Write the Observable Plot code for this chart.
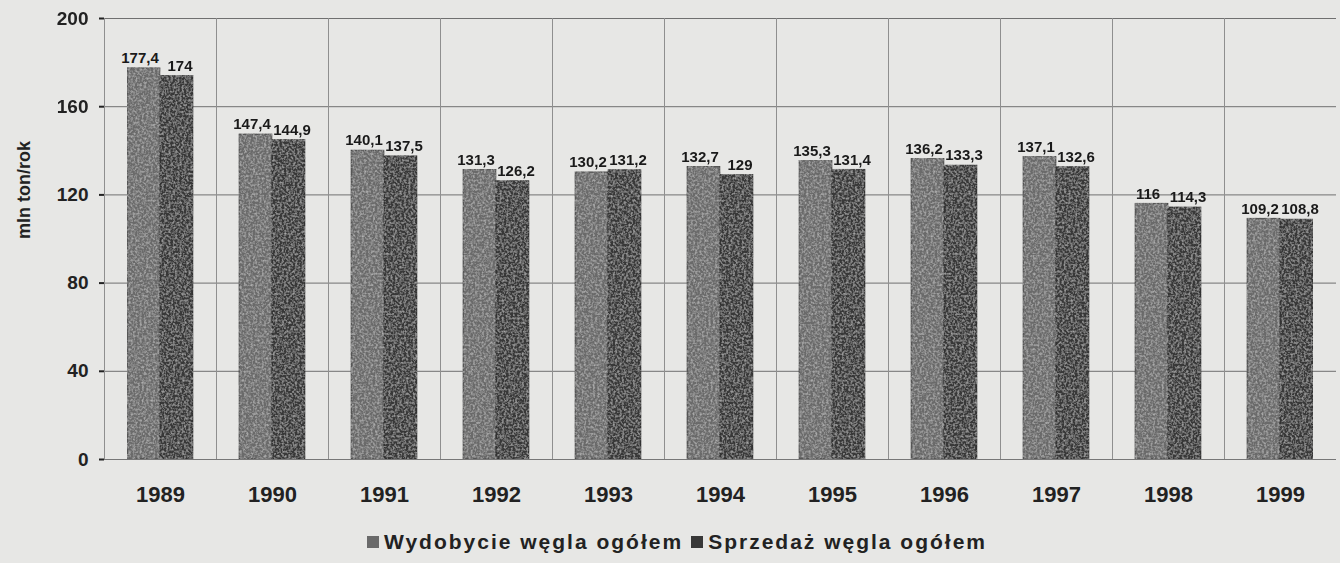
<!DOCTYPE html>
<html><head><meta charset="utf-8">
<script src="https://cdn.jsdelivr.net/npm/d3@7"></script>
<script src="https://cdn.jsdelivr.net/npm/@observablehq/plot@0.6"></script>
<style>
body{margin:0;background:#e7e7e5;font-family:"Liberation Sans",Arial,sans-serif;}
#chart svg{display:block;}
#legend{height:43px;display:flex;justify-content:center;align-items:center;font-weight:bold;font-size:21px;letter-spacing:2px;color:#222;padding-left:14px;box-sizing:border-box;}
#legend .sw{display:inline-block;width:12px;height:12px;margin-right:5px;}
#legend .item{margin:0 4px;display:flex;align-items:center;}
</style></head><body>
<svg width="0" height="0" style="position:absolute">
  <defs>
    <filter id="grain" x="0" y="0" width="100%" height="100%">
      <feTurbulence type="fractalNoise" baseFrequency="0.45" numOctaves="2" seed="3" result="n"/>
      <feColorMatrix in="n" type="matrix" values="0 0 0 0 1  0 0 0 0 1  0 0 0 0 1  0.7 0 0 0 -0.28" result="w"/>
      <feComposite in="w" in2="SourceGraphic" operator="in" result="wc"/>
      <feMerge><feMergeNode in="SourceGraphic"/><feMergeNode in="wc"/></feMerge>
    </filter>
  </defs>
</svg>
<div id="chart"></div>
<div id="legend"></div>
<script>
const years = [1989,1990,1991,1992,1993,1994,1995,1996,1997,1998,1999];
const seriesNames = ["Wydobycie węgla ogółem","Sprzedaż węgla ogółem"];
const seriesColors = ["#6a6a6a","#383838"];
const wydobycie = [177.4,147.4,140.1,131.3,130.2,132.7,135.3,136.2,137.1,116,109.2];
const sprzedaz = [174,144.9,137.5,126.2,131.2,129,131.4,133.3,132.6,114.3,108.8];
const yTicks = [0,40,80,120,160,200];

const data = years.flatMap((y,i)=>[
  {year:y, series:seriesNames[0], value:wydobycie[i]},
  {year:y, series:seriesNames[1], value:sprzedaz[i]}
]);
const fmt = v => String(v).replace(".", ",");
const first = data.filter(d => d.series === seriesNames[0]);
const second = data.filter(d => d.series === seriesNames[1]);

const chart = Plot.plot({
  width:1340, height:520,
  marginLeft:100, marginRight:0, marginTop:18, marginBottom:61,
  style:{background:"transparent", fontFamily:"'Liberation Sans', Arial, sans-serif", color:"#222"},
  fx:{domain:years, padding:0, label:null},
  x:{domain:seriesNames, paddingInner:0, paddingOuter:0.69, axis:null},
  y:{domain:[0,200], axis:null},
  color:{domain:seriesNames, range:seriesColors},
  marks:[
    Plot.gridY(yTicks, {stroke:"#707070", strokeOpacity:1, strokeWidth:1}),
    Plot.frame({anchor:"left", stroke:"#8f8f8f", strokeWidth:1}),
    Plot.barY(data, {fx:"year", x:"series", y:"value", fill:"series", stroke:"#2a2a2a", strokeWidth:0.6}),
    Plot.text(first, {fx:"year", x:"series", y:"value", text:d=>fmt(d.value), dy:-10, dx:-4, fontSize:15, fontWeight:"bold", fill:"#1a1a1a"}),
    Plot.text(second, {fx:"year", x:"series", y:"value", text:d=>fmt(d.value), dy:-10, dx:3, fontSize:15, fontWeight:"bold", fill:"#1a1a1a"}),
    Plot.ruleY([0], {stroke:"#777"}),
    Plot.axisY({ticks:yTicks, tickSize:5, tickPadding:11, fontSize:19, fontWeight:"bold", line:true, stroke:"#222", strokeWidth:2, label:null}),
    Plot.axisFx({anchor:"bottom", tickSize:0, tickPadding:27, fontSize:22, fontWeight:"bold", label:null, tickFormat:d=>String(d)}),
    Plot.text(["mln ton/rok"], {frameAnchor:"left", fx:null, facetAnchor:"left", dx:-80, rotate:-90, fontSize:18, fontWeight:"bold", fill:"#222"})
  ]
});
document.getElementById("chart").appendChild(chart);
d3.select(chart).selectAll('g[aria-label="bar"]').attr("filter","url(#grain)");

const leg = document.getElementById("legend");
seriesNames.forEach((n,i)=>{
  const it = document.createElement("span"); it.className="item";
  const sw = document.createElement("span"); sw.className="sw"; sw.style.background=seriesColors[i];
  it.appendChild(sw); it.appendChild(document.createTextNode(n));
  leg.appendChild(it);
});
</script>
</body></html>
